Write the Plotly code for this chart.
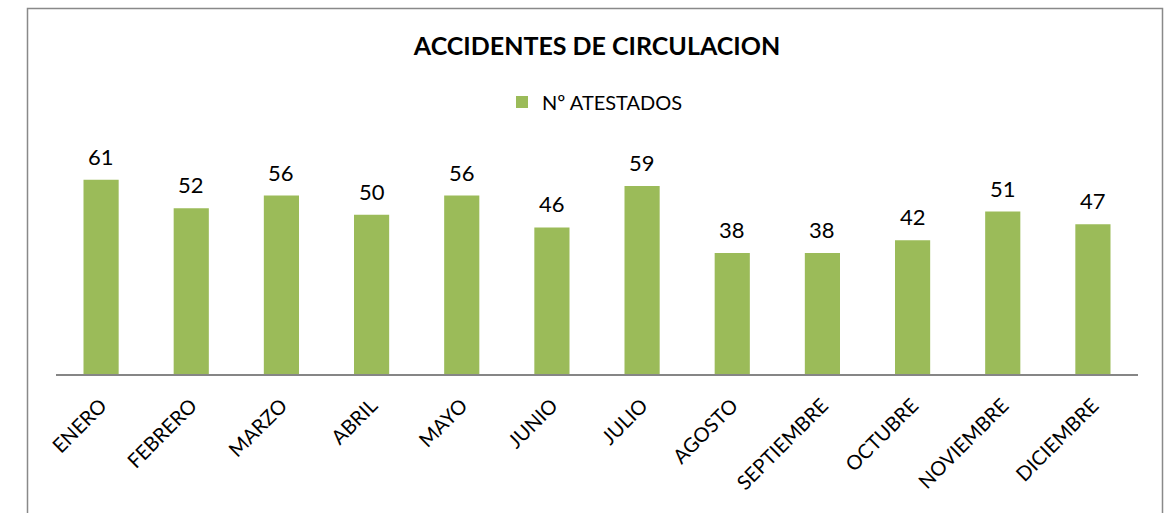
import plotly.graph_objects as go

months = ["ENERO", "FEBRERO", "MARZO", "ABRIL", "MAYO", "JUNIO", "JULIO",
          "AGOSTO", "SEPTIEMBRE", "OCTUBRE", "NOVIEMBRE", "DICIEMBRE"]
atestados = [61, 52, 56, 50, 56, 46, 59, 38, 38, 42, 51, 47]
series_name = "Nº ATESTADOS"
title_text = "ACCIDENTES DE CIRCULACION"

W, H = 1173, 513
L, R, T, B = 56, 35, 151, 139
pw = W - L - R
ph = H - T - B

FONT = "Lato, Carlito, Calibri, sans-serif"

fig = go.Figure()
fig.add_trace(go.Bar(
    x=months, y=atestados, name=series_name,
    marker=dict(color="#9BBB59", line=dict(width=0)),
    showlegend=True,
))

for m, v in zip(months, atestados):
    fig.add_annotation(x=m, y=v, text=str(v), showarrow=False,
                       yanchor="bottom", yshift=8,
                       font=dict(family=FONT, size=22, color="#000000"))

def px_x(p):
    return (p - L) / pw

def px_y(p):
    return (H - B - p) / ph

fig.add_shape(type="rect", xref="paper", yref="paper",
              x0=px_x(27.5), x1=px_x(1162.5), y0=px_y(530), y1=px_y(8.5),
              line=dict(color="#898989", width=1.5), fillcolor="rgba(0,0,0,0)",
              layer="below")

fig.update_layout(
    width=W, height=H,
    margin=dict(l=L, r=R, t=T, b=B),
    paper_bgcolor="white", plot_bgcolor="white",
    bargap=0.61,
    title=dict(text="<b>" + title_text + "</b>", x=597 / W, xanchor="center",
               y=1 - 46 / H, yanchor="middle", yref="container",
               font=dict(family=FONT, size=25, color="#000000")),
    legend=dict(orientation="h", x=px_x(595), xanchor="center",
                y=px_y(102), yanchor="middle",
                font=dict(family=FONT, size=20, color="#000000"),
                bgcolor="rgba(0,0,0,0)", itemwidth=30),
    xaxis=dict(type="category", tickangle=-45, showline=True,
               linecolor="#868686", linewidth=2, ticks="",
               ticklabelstandoff=10,
               tickfont=dict(family=FONT, size=20, color="#000000"),
               showgrid=False),
    yaxis=dict(range=[0, 70], visible=False, showgrid=False, zeroline=False),
    showlegend=True,
)

fig.write_html("out.html", config={"displayModeBar": False},
               post_script="document.body.style.margin='0';document.body.style.padding='0';")
